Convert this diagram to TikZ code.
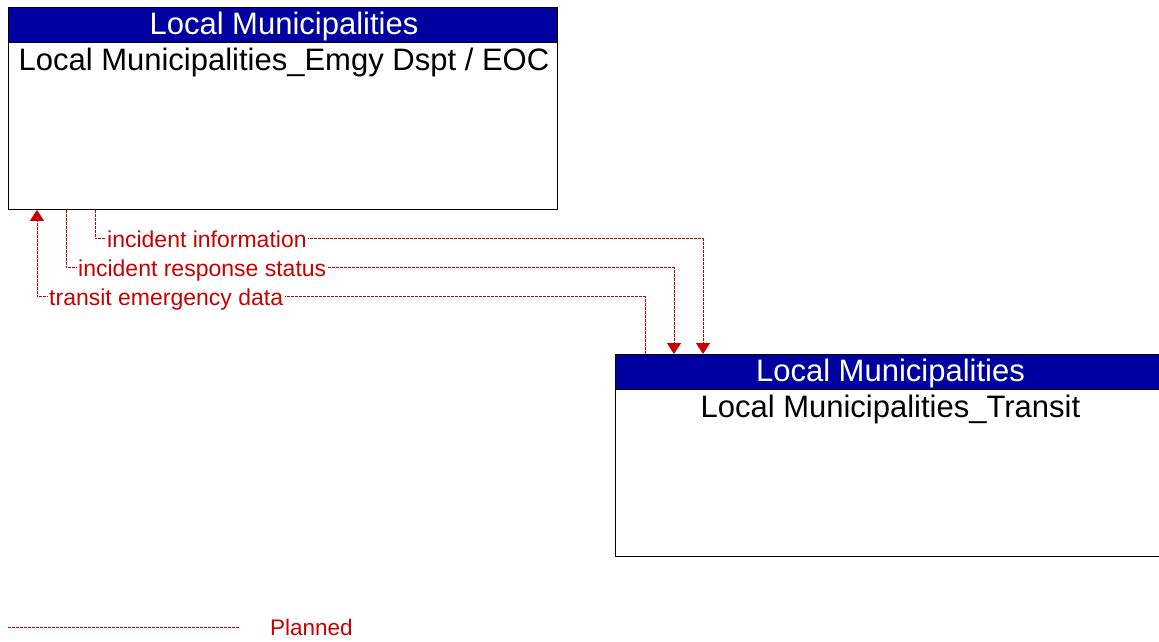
\documentclass[tikz,border=0pt]{standalone}
\usepackage{fontspec}
\setmainfont{Liberation Sans}
\usetikzlibrary{arrows.meta,calc}
\definecolor{flowred}{RGB}{200,0,0}
\definecolor{hdrblue}{RGB}{0,0,160}
\begin{document}
\begin{tikzpicture}[x=1pt,y=-1pt,
  box/.style={draw=black, line width=0.9pt, fill=white, anchor=north west, inner sep=0pt, minimum height=202pt},
  hdr/.style={draw=black, line width=0.9pt, fill=hdrblue, anchor=north west, inner sep=0pt, minimum height=34.5pt},
  hdrtext/.style={anchor=base, inner sep=0pt, text=white, font=\fontsize{31}{31}\selectfont},
  nametext/.style={anchor=base, inner sep=0pt, text=black, font=\fontsize{31}{31}\selectfont},
  flow/.style={draw=flowred, line width=1pt, dash pattern=on 3pt off 1pt},
  tip/.style={-{Triangle[width=14pt,length=11pt]}},
  flowlabel/.style={anchor=base west, inner sep=1.5pt, fill=white, text=flowred, font=\fontsize{23}{23}\selectfont},
  legendtext/.style={anchor=base west, inner sep=0pt, text=flowred, font=\fontsize{22.5}{22.5}\selectfont}
]
\useasboundingbox (0,0) rectangle (1159,641);

% Box 1
\node[box, minimum width=549pt] (b1) at (8,7) {};
\node[hdr, minimum width=549pt] (b1h) at (8,7) {};
\node[hdrtext] (b1t) at ($(b1.north)+(1,27.5)$) {Local Municipalities};
\node[nametext] (b1n) at ($(b1.north)+(1,63)$) {Local Municipalities\_Emgy Dspt / EOC};

% Box 2
\node[box, minimum width=550pt] (b2) at (615,354) {};
\node[hdr, minimum width=550pt] (b2h) at (615,354) {};
\node[hdrtext] (b2t) at ($(b2.north)+(0,27.5)$) {Local Municipalities};
\node[nametext] (b2n) at ($(b2.north)+(0,63)$) {Local Municipalities\_Transit};

% Connector coordinates
\coordinate (a1) at ($(b1.south west)+(87,0)$);
\coordinate (a2) at ($(b1.south west)+(58,0)$);
\coordinate (a3) at ($(b1.south west)+(29,0)$);
\coordinate (c1) at ($(b2.north west)+(88,0)$);
\coordinate (c2) at ($(b2.north west)+(59,0)$);
\coordinate (c3) at ($(b2.north west)+(30,0)$);

% Flows
\draw[flow, tip] (a1) -- ++(0,29) -| (c1);
\draw[flow, tip] (a2) -- ++(0,58) -| (c2);
\draw[flow, tip] (c3) |- ($(a3)+(0,87)$) -- (a3);

% Labels
\node[flowlabel] (l1) at ($(a1)+(10.5,37.5)$) {incident information};
\node[flowlabel] (l2) at ($(a2)+(10.5,66.5)$) {incident response status};
\node[flowlabel] (l3) at ($(a3)+(10.5,95.5)$) {transit emergency data};

% Legend
\coordinate (lg1) at (8,627);
\coordinate (lg2) at (240,627);
\draw[flow] (lg1) -- (lg2);
\node[legendtext] (lgt) at (270,635) {Planned};
\end{tikzpicture}
\end{document}
